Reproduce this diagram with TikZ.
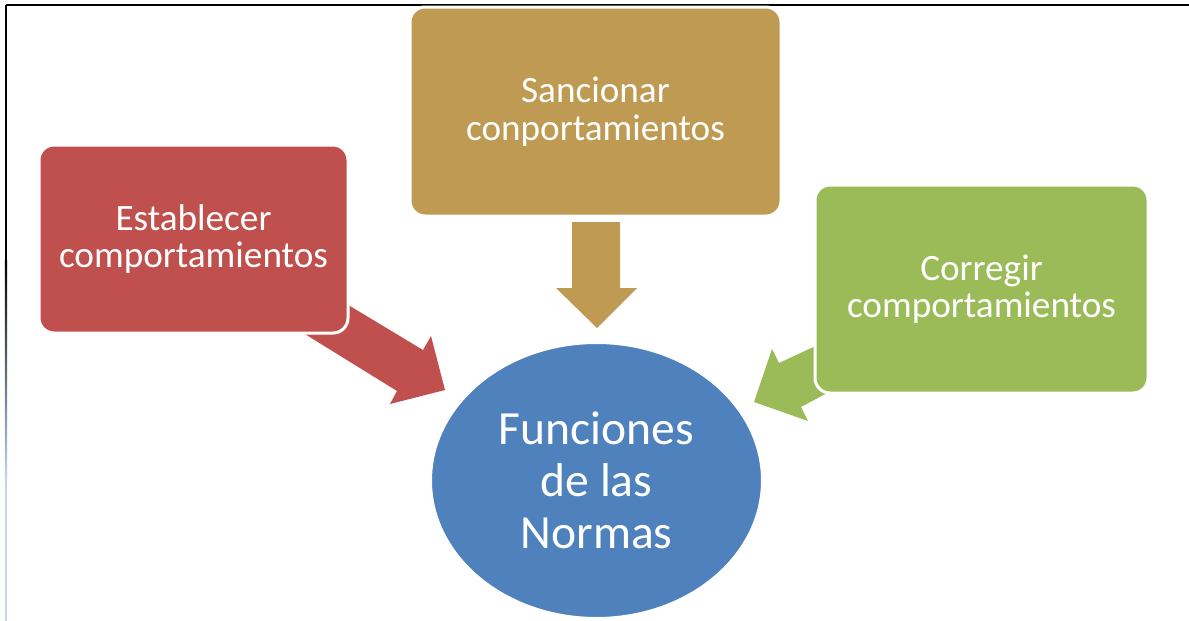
\documentclass[tikz,border=0pt]{standalone}
\usepackage{fontspec}
\setmainfont{Carlito}
\usetikzlibrary{shapes.geometric}
\definecolor{cred}{HTML}{C0504D}
\definecolor{cgold}{HTML}{BE9A52}
\definecolor{cgreen}{HTML}{9BBB59}
\definecolor{cblue}{HTML}{4F81BD}
\definecolor{cframe}{RGB}{195,214,240}
\tikzset{
  boxstyle/.style={rectangle, rounded corners=7.5pt, draw=white, line width=1.5pt,
    text=white, align=center, inner sep=0pt,
    font=\fontsize{18.6pt}{18.8pt}\selectfont},
}
\begin{document}
\begin{tikzpicture}[x=0.5pt,y=-0.5pt]
\useasboundingbox (0,0) rectangle (1189,621);
% frame
\draw[line width=1.2pt,black] (6,5) -- (1189,5);
\draw[line width=1.2pt,black] (6,5) -- (6,260);
\shade[top color=black, bottom color=cframe] (4.8,260) rectangle (7.2,480);
\fill[cframe] (4.8,480) rectangle (7.2,621);
% arrows (under boxes)
\fill[cred] (330,294) -- (423,350) -- (431,336) -- (445,390) -- (390,404) -- (397,391) -- (300,331) -- cycle;
\fill[cgold] (572,222) -- (620,222) -- (620,288) -- (637,288) -- (597,328) -- (556,288) -- (572,288) -- cycle;
\fill[cgreen] (835,337) -- (779,363) -- (772,349) -- (754,402) -- (808,421) -- (801,407) -- (842,385) -- cycle;
% boxes
\node[boxstyle, fill=cred, minimum width=154.5pt, minimum height=94pt] (est) at (193.5,239) {Establecer\\comportamientos};
\node[boxstyle, fill=cgold, minimum width=185.5pt, minimum height=104.5pt] (san) at (595.5,111.5) {Sancionar\\conportamientos};
\node[boxstyle, fill=cgreen, minimum width=166.5pt, minimum height=104pt] (cor) at (981.5,289) {Corregir\\comportamientos};
\node[ellipse, fill=cblue, draw=white, line width=1pt, inner sep=0pt, minimum width=165.5pt, minimum height=137.5pt,
  text=white, align=center, font=\fontsize{23.8pt}{26pt}\selectfont] (fun) at (596.5,480.5) {Funciones\\de las\\Normas};
\end{tikzpicture}
\end{document}
